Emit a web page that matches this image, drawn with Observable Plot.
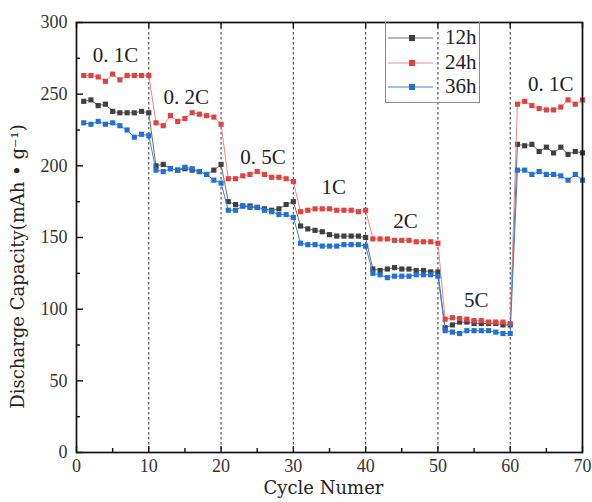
<!DOCTYPE html>
<html><head><meta charset="utf-8">
<script src="https://cdn.jsdelivr.net/npm/d3@7"></script>
<script src="https://cdn.jsdelivr.net/npm/@observablehq/plot@0.6"></script>
<style>
body{margin:0;background:#fff;}
#wrap{position:relative;width:592px;height:502px;}
#legend{position:absolute;left:385px;top:22px;width:95px;height:81px;border:1.5px solid #8c8c8c;border-top:none;box-sizing:border-box;font-family:"Liberation Serif","Times New Roman","DejaVu Serif",serif;font-size:21px;color:#222;}
.lg{position:absolute;left:0;height:24px;width:95px;}
.lg svg{position:absolute;left:2px;top:0;}
.lg span{position:absolute;left:59px;top:-1px;line-height:24px;}
</style></head><body><div id="wrap"></div>
<script>
const cycles = [1,2,3,4,5,6,7,8,9,10,11,12,13,14,15,16,17,18,19,20,21,22,23,24,25,26,27,28,29,30,31,32,33,34,35,36,37,38,39,40,41,42,43,44,45,46,47,48,49,50,51,52,53,54,55,56,57,58,59,60,61,62,63,64,65,66,67,68,69,70];
const cap12h = [245,246,242,243,238,237,237,237,238,237, 200,201,198,197,198,197,196,194,197,201, 175,173,172,172,171,170,169,170,173,175, 158,156,155,154,152,151,151,151,151,150, 128,127,128,129,128,128,127,127,126,126, 87,89,91,91,90,90,90,90,89,89, 215,214,215,210,213,209,213,208,210,209];
const cap24h = [263,263,262,259,264,260,263,263,263,263, 230,228,235,231,233,237,236,235,234,229, 191,191,193,194,196,194,192,192,191,189, 168,169,170,170,170,169,169,169,168,169, 149,149,149,148,148,148,147,147,147,146, 93,94,93.5,93,92,92,91,91,91,90, 243,245,242,240,239,239,241,246,243,246];
const cap36h = [230,229,231,229,230,228,225,220,222,221, 197,196,198,197,199,198,196,194,190,188, 169,169,172,171,171,169,168,166,166,164, 146,145,145,144,144,144,145,145,145,144, 125,124,122,123,123,123,124,124,124,123, 85,84,83,85,85,85,85,84,83,83, 197,197,194,196,194,194,193,190,194,190];
const seriesNames = ["12h","24h","36h"];
const seriesValues = [cap12h, cap24h, cap36h];
const markerColors = ["#3f3f3f","#e3413f","#2070d8"];
const lineColors = ["#707070","#ea8a8a","#3f7fd2"];
const rateLabels = ["0. 1C","0. 2C","0. 5C","1C","2C","5C","0. 1C"];
const rateLabelX = [5.4,15.2,25.8,35.6,45.5,55.3,65.6];
const rateLabelY = [277,248,206,185,161,106,257];
const boundaries = [10,20,30,40,50,60];
const xTicks = [0,10,20,30,40,50,60,70];
const yTicks = [0,50,100,150,200,250,300];
const xMinor = [5,15,25,35,45,55,65];
const yMinor = [25,75,125,175,225,275];
const xTitle = "Cycle Numer";
const yTitle = "Discharge Capacity(mAh \u2022 g\u207B\u00B9)";

const W = 592, H = 502, mL = 76, mR = 10, mT = 22, mB = 50;
const innerW = W - mL - mR, innerH = H - mT - mB;
const font = "Liberation Serif, Times New Roman, DejaVu Serif, serif";
const titleFont = "DejaVu Serif, Liberation Serif, serif";

const seriesData = seriesNames.map((s, k) => cycles.map((c, i) => ({cycle: c, cap: seriesValues[k][i], series: s})));
const labelData = rateLabels.map((t, i) => ({t, x: rateLabelX[i], y: rateLabelY[i]}));

const marks = [
  Plot.ruleX(boundaries, {x: d => d, stroke: "#333", strokeWidth: 1, strokeDasharray: "2.5,2.5"})
];
seriesData.forEach((data, k) => {
  marks.push(Plot.line(data, {x: "cycle", y: "cap", stroke: lineColors[k], strokeWidth: 1}));
  marks.push(Plot.dot(data, {x: "cycle", y: "cap", symbol: "square", r: 2.9, fill: markerColors[k], stroke: "none"}));
});
marks.push(
  Plot.tickX(xMinor, {x: d => d, insetTop: innerH - 4, stroke: "#111", strokeWidth: 1.4}),
  Plot.tickX(xTicks, {x: d => d, insetTop: innerH - 6, stroke: "#111", strokeWidth: 1.4}),
  Plot.tickX(xTicks, {x: d => d, insetBottom: innerH - 6, stroke: "#111", strokeWidth: 1.4}),
  Plot.tickY(yMinor, {y: d => d, insetRight: innerW - 4, stroke: "#111", strokeWidth: 1.4}),
  Plot.tickY(yTicks, {y: d => d, insetRight: innerW - 7, stroke: "#111", strokeWidth: 1.4}),
  Plot.frame({stroke: "#111", strokeWidth: 1.7}),
  Plot.axisX({ticks: xTicks, tickSize: 0, tickPadding: 7, fontSize: 18, fontFamily: font, label: null, fill: "#333"}),
  Plot.axisY({ticks: yTicks, tickSize: 0, tickPadding: 9, fontSize: 18, fontFamily: font, label: null, fill: "#333"}),
  Plot.text(labelData, {x: "x", y: "y", text: "t", fontSize: 21, fontFamily: font, fill: "#222"}),
  Plot.text([xTitle], {text: d => d, frameAnchor: "bottom", textAnchor: "middle", lineAnchor: "middle", dy: 36, dx: -6, fontSize: 18, fontFamily: titleFont, fill: "#222", ariaLabel: "xtitle"}),
  Plot.text([yTitle], {text: d => d, frameAnchor: "left", textAnchor: "middle", lineAnchor: "middle", dx: -58, dy: 29, rotate: -90, fontSize: 18, fontFamily: titleFont, fill: "#222", ariaLabel: "ytitle"})
);

const chart = Plot.plot({
  width: W, height: H,
  marginLeft: mL, marginRight: mR, marginTop: mT, marginBottom: mB,
  x: {domain: [0, 70], axis: null},
  y: {domain: [0, 300], axis: null},
  style: {fontFamily: font, background: "#fff"},
  marks
});
d3.select(chart).selectAll('g[aria-label="xtitle"] text').attr("letter-spacing", "1px");
d3.select(chart).selectAll('g[aria-label="ytitle"] text').attr("letter-spacing", "2.7px");
const wrap = document.getElementById("wrap");
wrap.appendChild(chart);

const legend = document.createElement("div");
legend.id = "legend";
seriesNames.forEach((s, k) => {
  const row = document.createElement("div");
  row.className = "lg";
  row.style.top = (4 + k * 24.5) + "px";
  row.innerHTML = `<svg width="50" height="24"><line x1="0" x2="45" y1="12" y2="12" stroke="${lineColors[k]}" stroke-width="1"/><rect x="21" y="9" width="6" height="6" fill="${markerColors[k]}"/></svg><span>${s}</span>`;
  legend.appendChild(row);
});
wrap.appendChild(legend);
</script></body></html>
